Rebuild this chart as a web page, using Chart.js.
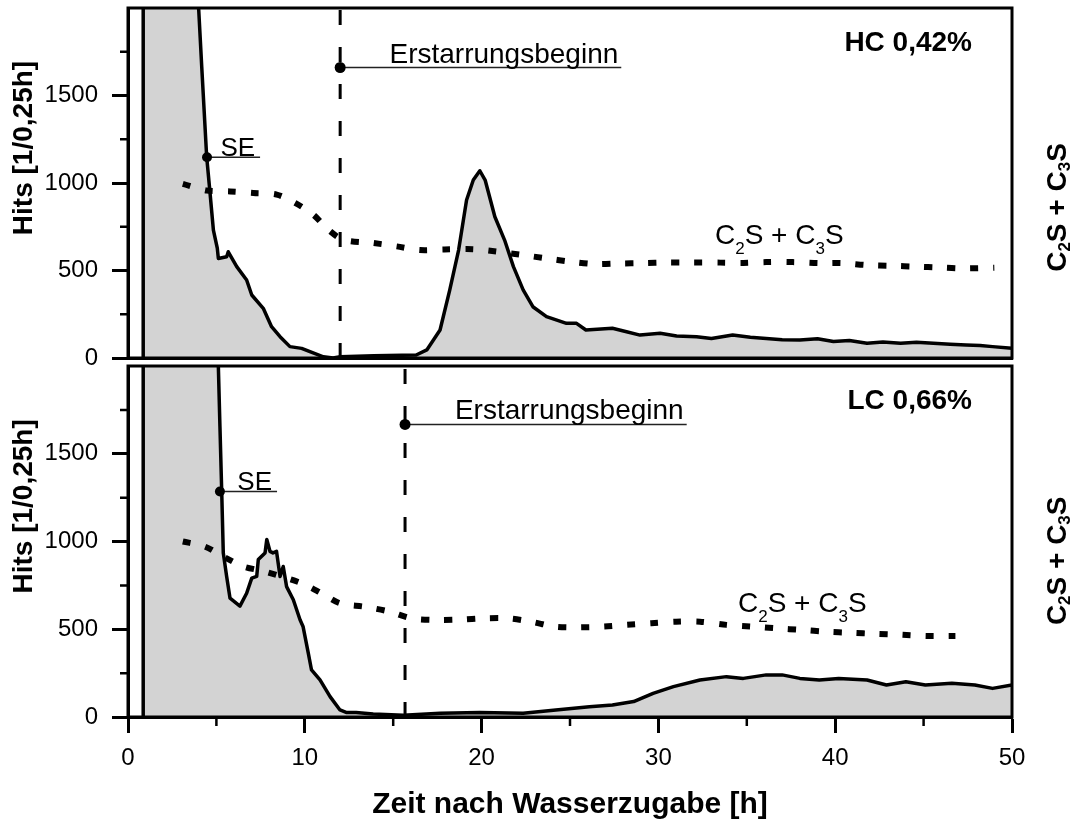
<!DOCTYPE html>
<html>
<head>
<meta charset="utf-8">
<script src="https://cdn.jsdelivr.net/npm/chart.js@4.4.1/dist/chart.umd.min.js"></script>
<style>
  body { margin:0; background:#fff; width:1079px; height:820px; overflow:hidden; position:relative; }
  .panel { position:absolute; left:0; width:1079px; }
  #top { top:0; height:372px; }
  #bottom { top:360px; height:460px; }
</style>
</head>
<body>
<div class="panel" id="top"><canvas id="chartTop"></canvas></div>
<div class="panel" id="bottom"><canvas id="chartBottom"></canvas></div>
<script>
// HC 0,42% - hits per 0,25h
const hcTime = [0.85, 0.86, 2.5, 4.0, 4.17, 4.45, 4.64, 4.83, 5.05, 5.11, 5.58, 5.67, 6.15, 6.71, 7.0, 7.65, 8.12, 8.6, 9.16, 9.82, 10.29, 11.05, 11.6, 12.0, 13.9, 16.3, 16.9, 17.65, 18.2, 18.7, 19.15, 19.53, 19.9, 20.2, 20.75, 21.3, 21.8, 22.35, 22.9, 23.67, 24.8, 25.37, 25.9, 27.4, 28.2, 28.96, 30.1, 31.03, 32.16, 33.0, 34.2, 35.2, 36.1, 37.0, 38.0, 39.0, 39.9, 40.8, 41.8, 42.7, 43.7, 44.6, 45.55, 46.5, 47.4, 48.2, 48.9, 50];
const hcHits = [0, 5200, 3600, 1990, 1665, 1150, 943, 731, 628, 569, 579, 607, 522, 446, 360, 284, 179, 122, 65, 55, 36, 7, 0, 7, 13, 17, 46, 160, 389, 617, 903, 1017, 1070, 1017, 807, 674, 522, 389, 293, 236, 198, 198, 160, 170, 150, 131, 141, 126, 122, 112, 131, 118, 112, 104, 103, 110, 94, 100, 84, 92, 84, 90, 84, 78, 74, 72, 65, 55];
const hcPhaseTime = [3.1, 4.45, 5.77, 7.09, 8.41, 9.45, 10.48, 11.33, 12.18, 13.87, 15.2, 16.5, 17.9, 19.5, 20.85, 22.26, 23.6, 25.0, 26.4, 27.8, 29.1, 30.5, 31.9, 33.5, 34.8, 36.1, 37.6, 39.1, 40.4, 41.8, 43.2, 44.6, 45.9, 47.3, 49.0];
const hcPhase = [995, 957, 952, 943, 934, 886, 819, 733, 676, 657, 638, 617, 620, 622, 608, 589, 570, 551, 537, 540, 542, 545, 545, 545, 543, 548, 548, 542, 542, 531, 527, 522, 517, 512, 516];

// LC 0,66%
const lcTime = [0.85, 0.86, 3.5, 5.11, 5.2, 5.3, 5.39, 5.58, 5.77, 6.33, 6.71, 7.0, 7.28, 7.37, 7.75, 7.85, 8.03, 8.2, 8.4, 8.6, 8.78, 8.97, 9.35, 9.73, 9.9, 10.2, 10.38, 10.86, 11.43, 11.99, 12.37, 12.9, 13.87, 15.57, 17.65, 19.9, 22.35, 24.2, 26.1, 27.4, 28.6, 29.7, 30.85, 32.35, 33.85, 34.8, 36.1, 37.0, 38.0, 39.1, 40.2, 41.8, 42.9, 44.0, 45.1, 46.6, 47.9, 48.9, 50];
const lcHits = [0, 5200, 3800, 2000, 1657, 1286, 934, 801, 677, 632, 705, 791, 801, 897, 935, 1011, 944, 935, 944, 801, 858, 743, 668, 554, 516, 363, 268, 211, 116, 40, 25, 25, 17, 10, 21, 25, 21, 40, 59, 68, 88, 135, 173, 211, 230, 220, 240, 240, 220, 211, 220, 211, 182, 201, 182, 192, 182, 163, 182];
const lcPhaseTime = [3.1, 4.35, 5.39, 6.52, 7.75, 9.82, 10.95, 11.99, 13.4, 14.8, 16.04, 17.45, 18.8, 20.1, 21.5, 22.8, 24.15, 25.5, 26.9, 28.2, 29.6, 31.0, 32.35, 33.85, 35.3, 36.7, 38.1, 39.5, 40.9, 42.25, 43.7, 45.1, 46.8];
const lcPhase = [1000, 971, 914, 858, 829, 762, 705, 648, 628, 600, 562, 553, 555, 562, 562, 543, 515, 511, 515, 525, 534, 543, 543, 525, 515, 505, 496, 486, 480, 474, 469, 462, 462];

// markers: onset of solidification (Erstarrungsbeginn) and SE
const onsetTime = [12, 15.67];
const onsetMark = [1660, 1667];
const onsetLabelEnd = [27.9, 31.6];
const seTime = [4.47, 5.2];
const seHits = [1147, 1285];
const seLabelEnd = [7.47, 8.43];

const panelNames = ['HC 0,42%', 'LC 0,66%'];
const yMajor = [0, 500, 1000, 1500];
const yMinor = [250, 750, 1250, 1750];
const xMajor = [0, 10, 20, 30, 40, 50];
const xMinor = [5, 15, 25, 35, 45];

const FONT = '"Liberation Sans", Arial, sans-serif';
const chemParts = [['C', 0], ['2', 1], ['S + C', 0], ['3', 1], ['S', 0]];

function chemWidth(ctx, size, weight) {
    let w = 0;
    chemParts.forEach(([t, sub]) => {
        ctx.font = weight + ' ' + (sub ? Math.round(size * 0.6) : size) + 'px ' + FONT;
        w += ctx.measureText(t).width;
    });
    return w;
}
function drawChem(ctx, x, y, size, weight, drop) {
    let cx = x;
    ctx.textAlign = 'left';
    ctx.textBaseline = 'alphabetic';
    chemParts.forEach(([t, sub]) => {
        ctx.font = weight + ' ' + (sub ? Math.round(size * 0.6) : size) + 'px ' + FONT;
        ctx.fillText(t, cx, y + (sub ? size * drop : 0));
        cx += ctx.measureText(t).width;
    });
}

const decor = {
    id: 'decor',
    afterDraw(chart, args, o) {
        const {ctx, chartArea: a, scales: {x, y}} = chart;
        ctx.save();
        ctx.strokeStyle = '#000';
        ctx.fillStyle = '#000';

        // frame
        ctx.lineWidth = 3;
        ctx.strokeRect(a.left, a.top, a.right - a.left, a.bottom - a.top);

        // minor ticks
        ctx.lineWidth = 2.5;
        ctx.beginPath();
        yMinor.forEach(v => {
            const py = y.getPixelForValue(v);
            ctx.moveTo(a.left - 8, py); ctx.lineTo(a.left, py);
        });
        if (o.xTicks) {
            xMinor.forEach(v => {
                const px = x.getPixelForValue(v);
                ctx.moveTo(px, a.bottom); ctx.lineTo(px, a.bottom + 9);
            });
        }
        ctx.stroke();

        // y title
        ctx.save();
        ctx.translate(24, a.top + 0.4 * (a.bottom - a.top));
        ctx.rotate(-Math.PI / 2);
        ctx.font = 'bold 28px ' + FONT;
        ctx.textAlign = 'center';
        ctx.textBaseline = 'middle';
        ctx.fillText('Hits [1/0,25h]', 0, 0);
        ctx.restore();

        // right title
        ctx.save();
        const rw = chemWidth(ctx, 28, 'bold');
        ctx.translate(1066, a.top + o.rightAt * (a.bottom - a.top));
        ctx.rotate(-Math.PI / 2);
        drawChem(ctx, -rw / 2, 0, 28, 'bold', 0.15);
        ctx.restore();

        // panel name
        ctx.font = 'bold 28px ' + FONT;
        ctx.textAlign = 'right';
        ctx.textBaseline = 'alphabetic';
        ctx.fillText(o.name, a.right - 40, a.top + 43);

        // annotations
        const i = o.idx;
        ctx.font = '28px ' + FONT;
        ctx.fillText('Erstarrungsbeginn', x.getPixelForValue(onsetLabelEnd[i]) - 3, y.getPixelForValue(onsetMark[i]) - 5);
        ctx.font = '26px ' + FONT;
        ctx.fillText('SE', x.getPixelForValue(seLabelEnd[i]) - 5, y.getPixelForValue(seHits[i]) - 1);

        drawChem(ctx, x.getPixelForValue(o.phaseAt[0]), y.getPixelForValue(o.phaseAt[1]), 28, 'normal', 0.35);
        ctx.restore();
    }
};

function makeChart(id, i, time, hits, pTime, phase, opts) {
    const pts = (xs, ys) => xs.map((v, k) => ({x: v, y: ys[k]}));
    return new Chart(document.getElementById(id), {
        type: 'line',
        data: {
            datasets: [
                {
                    data: [{x: onsetTime[i], y: onsetMark[i]}],
                    showLine: false, pointRadius: 5.5, pointBackgroundColor: '#000', pointBorderWidth: 0
                },
                {
                    data: [{x: seTime[i], y: seHits[i]}],
                    showLine: false, pointRadius: 5, pointBackgroundColor: '#000', pointBorderWidth: 0
                },
                {
                    data: [{x: onsetTime[i], y: onsetMark[i]}, {x: onsetLabelEnd[i], y: onsetMark[i]}],
                    borderColor: '#222', borderWidth: 1.5, pointRadius: 0
                },
                {
                    data: [{x: seTime[i], y: seHits[i]}, {x: seLabelEnd[i], y: seHits[i]}],
                    borderColor: '#222', borderWidth: 1.5, pointRadius: 0
                },
                {
                    data: [{x: onsetTime[i], y: 0}, {x: onsetTime[i], y: 2000}],
                    borderColor: '#000', borderWidth: 3, borderDash: [15, 22], pointRadius: 0
                },
                {
                    data: pts(pTime, phase),
                    borderColor: '#000', borderWidth: 6, borderDash: [8, 15], borderCapStyle: 'butt',
                    pointRadius: 0, tension: 0.3
                },
                {
                    data: pts(time, hits),
                    borderColor: '#000', borderWidth: 3.5, borderJoinStyle: 'round',
                    backgroundColor: '#d3d3d3', fill: 'origin', pointRadius: 0, tension: 0,
                    clip: 0
                }
            ]
        },
        options: {
            responsive: true,
            maintainAspectRatio: false,
            animation: false,
            layout: {padding: {left: 0, right: 67, top: opts.padTop, bottom: 0}},
            plugins: {
                legend: {display: false},
                tooltip: {enabled: false},
                filler: {drawTime: 'beforeDatasetsDraw'},
                decor: {idx: i, name: panelNames[i], xTicks: opts.xTicks, rightAt: opts.rightAt, phaseAt: opts.phaseAt}
            },
            scales: {
                x: {
                    type: 'linear', min: 0, max: 50,
                    afterFit: s => { s.height = opts.xHeight; s.paddingLeft = 0; s.paddingRight = 0; },
                    afterBuildTicks: s => { s.ticks = xMajor.map(v => ({value: v})); },
                    border: {display: true, color: '#000', width: 3},
                    grid: {drawOnChartArea: false, drawTicks: opts.xTicks, tickLength: 16, tickWidth: 3, tickColor: '#000'},
                    ticks: {display: opts.xTicks, padding: 11, color: '#000', font: {family: FONT, size: 24},
                        callback: v => String(v)},
                    title: {
                        display: opts.xTicks, text: 'Zeit nach Wasserzugabe [h]', color: '#000',
                        font: {family: FONT, size: 30, weight: 'bold', lineHeight: 1}, padding: {top: 0, bottom: 0}
                    }
                },
                y: {
                    type: 'linear', min: 0, max: 2000,
                    afterFit: s => { s.width = 128; s.paddingTop = 0; s.paddingBottom = 0; },
                    afterBuildTicks: s => { s.ticks = yMajor.map(v => ({value: v})); },
                    border: {display: true, color: '#000', width: 3},
                    grid: {drawOnChartArea: false, tickLength: 16, tickWidth: 3, tickColor: '#000'},
                    ticks: {padding: 14, color: '#000', font: {family: FONT, size: 24},
                        callback: v => String(v)}
                }
            }
        },
        plugins: [decor]
    });
}

makeChart('chartTop', 0, hcTime, hcHits, hcPhaseTime, hcPhase,
    {padTop: 8, xHeight: 14, xTicks: false, rightAt: 0.57, phaseAt: [33.2, 652]});
makeChart('chartBottom', 1, lcTime, lcHits, lcPhaseTime, lcPhase,
    {padTop: 6, xHeight: 103, xTicks: true, rightAt: 0.555, phaseAt: [34.5, 600]});
</script>
</body>
</html>
